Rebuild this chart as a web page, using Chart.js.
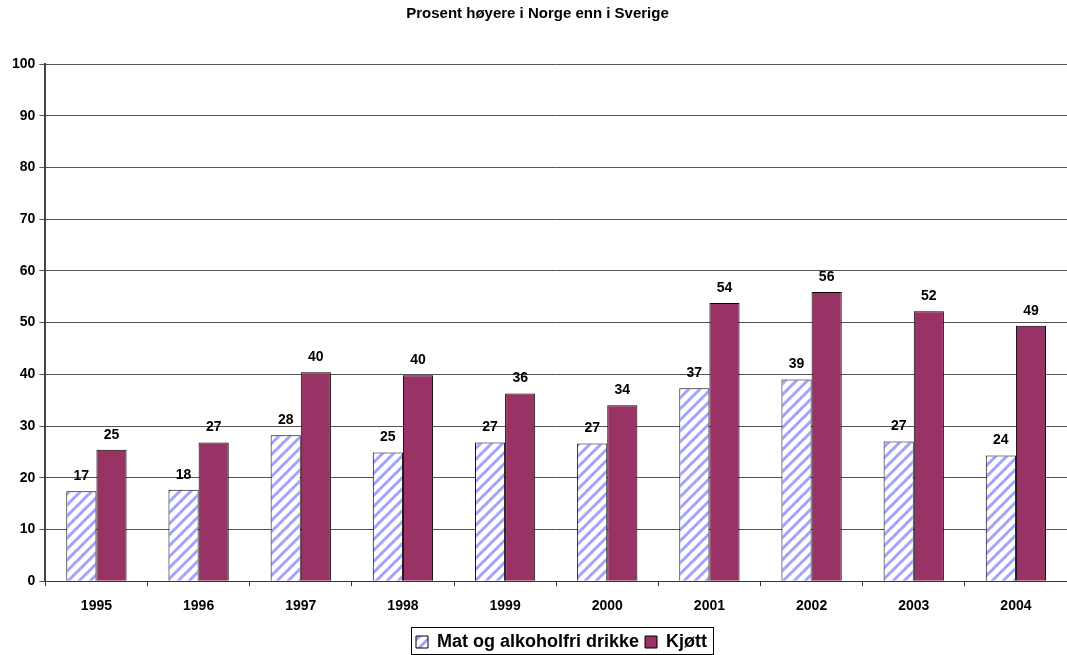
<!DOCTYPE html>
<html>
<head>
<meta charset="utf-8">
<script src="https://cdn.jsdelivr.net/npm/chart.js@4"></script>
<style>
  html, body { margin: 0; padding: 0; background: #fff; }
  #wrap { width: 1067px; height: 655px; }
</style>
</head>
<body>
<div id="wrap"><canvas id="myChart" width="1067" height="655"></canvas></div>
<script>
const years = ['1995', '1996', '1997', '1998', '1999', '2000', '2001', '2002', '2003', '2004'];
const matValues = [17.4, 17.7, 28.2, 24.9, 26.8, 26.6, 37.3, 39.0, 27.0, 24.3];
const kjottValues = [25.4, 26.8, 40.4, 39.8, 36.3, 34.0, 53.8, 55.9, 52.2, 49.4];
const yTicks = [0, 10, 20, 30, 40, 50, 60, 70, 80, 90, 100];

const FONT = "'Liberation Sans', Arial, sans-serif";
const LEGEND_SHIFT_X = 24;
const LEGEND_SHIFT_Y = 0;

// hatched fill for the first series
function makeHatch() {
    const s = 11;
    const c = document.createElement('canvas');
    c.width = s; c.height = s;
    const g = c.getContext('2d');
    g.fillStyle = '#ffffff';
    g.fillRect(0, 0, s, s);
    g.strokeStyle = '#a3a3ff';
    g.lineWidth = 3;
    g.beginPath();
    for (let k = -1; k <= 1; k++) {
        g.moveTo(k * s - 2, s + 2);
        g.lineTo(k * s + s + 2, -2);
    }
    g.stroke();
    return g.createPattern(c, 'repeat');
}

const ctx = document.getElementById('myChart');
const hatch = makeHatch();

const valueLabels = {
    id: 'valueLabels',
    afterDatasetsDraw(chart) {
        const c = chart.ctx;
        c.save();
        c.font = 'bold 14px ' + FONT;
        c.fillStyle = '#000';
        c.textAlign = 'center';
        c.textBaseline = 'bottom';
        chart.data.datasets.forEach((ds, i) => {
            chart.getDatasetMeta(i).data.forEach((bar, j) => {
                c.fillText(Math.round(ds.data[j]), bar.x, bar.y - 8);
            });
        });
        c.restore();
    }
};

// legend sits a bit right of the page centre and has a frame round it
const legendBox = {
    id: 'legendBox',
    afterLayout(chart) {
        const l = chart.legend;
        l.left += LEGEND_SHIFT_X;
        l.right += LEGEND_SHIFT_X;
        l.top += LEGEND_SHIFT_Y;
        l.bottom += LEGEND_SHIFT_Y;
    },
    afterDraw(chart) {
        const items = chart.legend.legendHitBoxes;
        if (!items || !items.length) return;
        const x0 = items[0].left - 5;
        const last = items[items.length - 1];
        const x1 = last.left + last.width + 6;
        const c = chart.ctx;
        c.save();
        c.strokeStyle = '#000';
        c.lineWidth = 1;
        c.strokeRect(Math.round(x0) + 0.5, 627.5, Math.round(x1 - x0), 27);
        c.restore();
    }
};

new Chart(ctx, {
    type: 'bar',
    data: {
        labels: years,
        datasets: [
            {
                label: 'Mat og alkoholfri drikke',
                data: matValues,
                backgroundColor: hatch,
                borderColor: '#000',
                borderWidth: 1,
                borderSkipped: 'bottom'
            },
            {
                label: 'Kjøtt',
                data: kjottValues,
                backgroundColor: '#993366',
                borderColor: '#000',
                borderWidth: 1,
                borderSkipped: 'bottom'
            }
        ]
    },
    options: {
        responsive: false,
        animation: false,
        layout: { padding: { left: 8, right: 0, top: 0, bottom: -6 } },
        datasets: {
            bar: { categoryPercentage: 0.59, barPercentage: 1.0 }
        },
        plugins: {
            title: {
                display: true,
                text: 'Prosent høyere i Norge enn i Sverige',
                color: '#000',
                font: { family: FONT, size: 15, weight: 'bold' },
                padding: { top: 5, bottom: 41 }
            },
            legend: {
                position: 'bottom',
                labels: {
                    color: '#000',
                    font: { family: FONT, size: 18, weight: 'bold', lineHeight: 1 },
                    boxWidth: 12,
                    boxHeight: 12,
                    padding: 6
                }
            },
            tooltip: { enabled: false }
        },
        scales: {
            x: {
                grid: {
                    display: true,
                    drawOnChartArea: false,
                    drawTicks: true,
                    tickLength: 5,
                    color: '#333',
                    offset: true
                },
                border: { display: true, color: '#333', width: 1 },
                ticks: {
                    color: '#000',
                    font: { family: FONT, size: 14, weight: 'bold' },
                    padding: 12
                }
            },
            y: {
                min: 0,
                max: 100,
                afterBuildTicks(axis) {
                    axis.ticks = yTicks.map(v => ({ value: v }));
                },
                grid: {
                    color: '#555',
                    lineWidth: 1,
                    drawTicks: true,
                    tickLength: 6
                },
                border: { display: true, color: '#444', width: 2 },
                ticks: {
                    color: '#000',
                    font: { family: FONT, size: 14, weight: 'bold' },
                    padding: 4
                }
            }
        }
    },
    plugins: [valueLabels, legendBox]
});
</script>
</body>
</html>
